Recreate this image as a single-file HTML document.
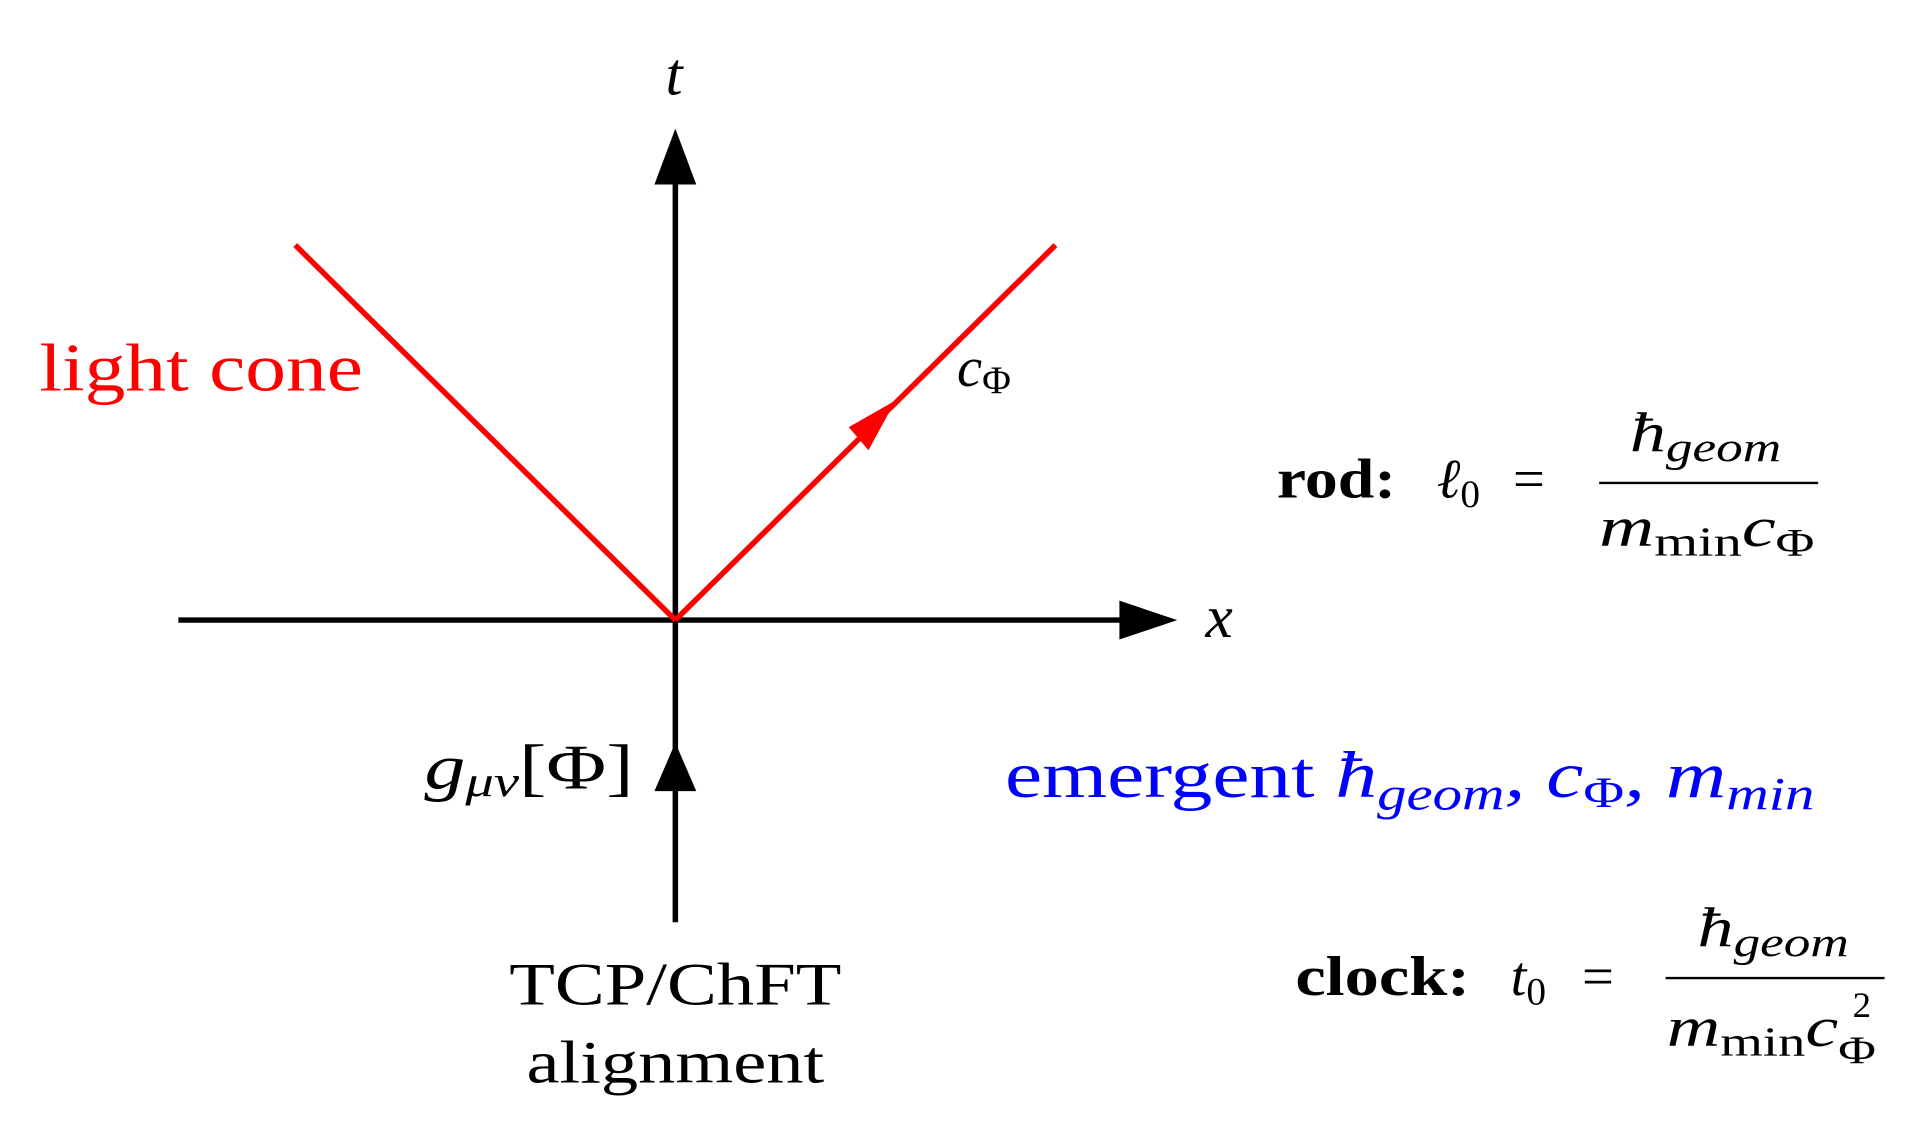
<!DOCTYPE html>
<html><head><meta charset="utf-8"><style>
html,body{margin:0;padding:0;background:#fff}
svg{display:block}
text{font-family:"Liberation Serif","DejaVu Serif",serif}
</style></head><body>
<svg width="1919" height="1137" viewBox="0 0 1560 937" preserveAspectRatio="none">
<line x1="145" y1="511" x2="915" y2="511" stroke="#000" stroke-width="4.5"/>
<polygon points="957,511 910,495 910,527" fill="#000"/>
<line x1="549" y1="760" x2="549" y2="145" stroke="#000" stroke-width="4.5"/>
<polygon points="549,106 532,152 566,152" fill="#000"/>
<polygon points="549,612 532,652 566,652" fill="#000"/>
<line x1="240" y1="202" x2="549" y2="511" stroke="#f00" stroke-width="4.5"/>
<line x1="549" y1="511" x2="858" y2="202" stroke="#f00" stroke-width="4.5"/>
<polygon points="728,330 690,352 706,371" fill="#f00"/>
<text x="548" y="78" font-size="50" font-style="italic" text-anchor="middle">t</text>
<text x="980" y="525" font-size="50" font-style="italic">x</text>
<text x="32" y="322" font-size="56" fill="#f00" textLength="263" lengthAdjust="spacingAndGlyphs">light cone</text>
<text x="778" y="318" font-size="46" font-style="italic">c<tspan font-size="32" font-style="normal" dy="6">Φ</tspan></text>
<text x="345" y="650" font-size="52" textLength="170" lengthAdjust="spacingAndGlyphs"><tspan font-style="italic">g</tspan><tspan font-style="italic" font-size="36" dy="6">μν</tspan><tspan dy="-6">[Φ]</tspan></text>
<text x="549" y="828" font-size="50" text-anchor="middle" textLength="270" lengthAdjust="spacingAndGlyphs">TCP/ChFT</text>
<text x="549" y="892" font-size="50" text-anchor="middle" textLength="242" lengthAdjust="spacingAndGlyphs">alignment</text>
<text x="817" y="657" font-size="54" fill="#00f" textLength="658" lengthAdjust="spacingAndGlyphs">emergent <tspan font-style="italic">ħ</tspan><tspan font-style="italic" font-size="38" dy="10">geom</tspan><tspan dy="-10" font-style="italic">, c</tspan><tspan font-size="36" dy="8">Φ</tspan><tspan dy="-8" font-style="italic">, m</tspan><tspan font-style="italic" font-size="38" dy="10">min</tspan></text>
<!-- rod -->
<text x="1038" y="410" font-size="46" font-weight="bold" textLength="97" lengthAdjust="spacingAndGlyphs">rod:</text>
<text x="1168" y="410" font-size="46" font-style="italic">ℓ<tspan font-size="32" font-style="normal" dy="8">0</tspan></text>
<text x="1230" y="410" font-size="46">=</text>
<line x1="1300" y1="398" x2="1478" y2="398" stroke="#000" stroke-width="2"/>
<text x="1325" y="372" font-size="46" font-style="italic" textLength="123" lengthAdjust="spacingAndGlyphs">ħ<tspan font-size="34" dy="8">geom</tspan></text>
<text x="1300" y="450" font-size="46" textLength="175" lengthAdjust="spacingAndGlyphs"><tspan font-style="italic">m</tspan><tspan font-size="34" dy="8">min</tspan><tspan dy="-8" font-style="italic">c</tspan><tspan font-size="32" dy="8">Φ</tspan></text>
<!-- clock -->
<text x="1053" y="820" font-size="46" font-weight="bold" textLength="142" lengthAdjust="spacingAndGlyphs">clock:</text>
<text x="1228" y="820" font-size="46" font-style="italic">t<tspan font-size="32" font-style="normal" dy="8">0</tspan></text>
<text x="1286" y="820" font-size="46">=</text>
<line x1="1354" y1="806" x2="1532" y2="806" stroke="#000" stroke-width="2"/>
<text x="1380" y="780" font-size="46" font-style="italic" textLength="123" lengthAdjust="spacingAndGlyphs">ħ<tspan font-size="34" dy="8">geom</tspan></text>
<text x="1355" y="862" font-size="46" textLength="170" lengthAdjust="spacingAndGlyphs"><tspan font-style="italic">m</tspan><tspan font-size="34" dy="8">min</tspan><tspan dy="-8" font-style="italic">c</tspan><tspan font-size="32" dy="14">Φ</tspan></text>
<text x="1506" y="838" font-size="30">2</text>
</svg>
</body></html>
